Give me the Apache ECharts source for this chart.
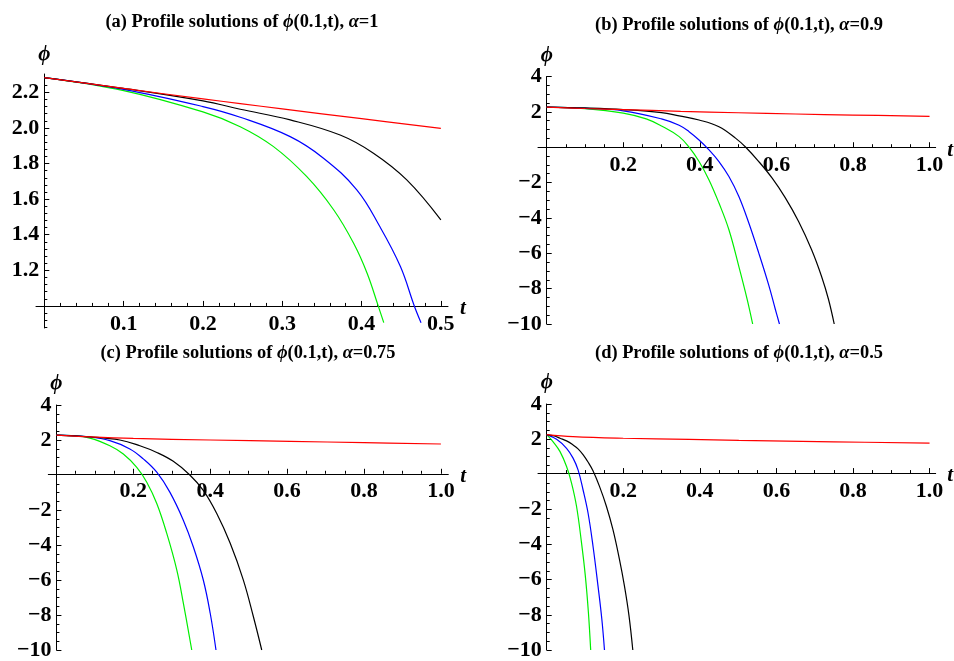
<!DOCTYPE html>
<html><head><meta charset="utf-8">
<script src="https://cdn.jsdelivr.net/npm/echarts@6/dist/echarts.min.js"></script>
<style>html,body{margin:0;padding:0;background:#fff}#c{width:954px;height:661px}</style>
</head><body><div id="c"></div>
<script>
// ---------- text ----------
const panelLetters = ['(a)', '(b)', '(c)', '(d)'];
const alphaValues = ['1', '0.9', '0.75', '0.5'];

// ---------- tick values ----------
const aXMajor = [0.1, 0.2, 0.3, 0.4, 0.5];
const aXMinor = [0.02, 0.04, 0.06, 0.08, 0.12, 0.14, 0.16, 0.18, 0.22, 0.24, 0.26, 0.28, 0.32, 0.34, 0.36, 0.38, 0.42, 0.44, 0.46, 0.48];
const aYMajor = [1.2, 1.4, 1.6, 1.8, 2.0, 2.2];
const aYMinor = [0.88, 0.92, 0.96, 1.04, 1.08, 1.12, 1.16, 1.24, 1.28, 1.32, 1.36, 1.44, 1.48, 1.52, 1.56, 1.64, 1.68, 1.72, 1.76, 1.84, 1.88, 1.92, 1.96, 2.04, 2.08, 2.12, 2.16, 2.24, 2.28];
const bXMajor = [0.2, 0.4, 0.6, 0.8, 1.0];
const bXMinor = [0.05, 0.1, 0.15, 0.25, 0.3, 0.35, 0.45, 0.5, 0.55, 0.65, 0.7, 0.75, 0.85, 0.9, 0.95];
const bYMajor = [-10, -8, -6, -4, -2, 2, 4];
const bYMinor = [-9.5, -9, -8.5, -7.5, -7, -6.5, -5.5, -5, -4.5, -3.5, -3, -2.5, -1.5, -1, -0.5, 0.5, 1, 1.5, 2.5, 3, 3.5];

// ---------- data: [t, phi] ----------
// (a) alpha = 1
const aRed   = [[0,2.283],[0.1,2.222],[0.2,2.163],[0.247,2.137],[0.3,2.107],[0.4,2.052],[0.5,1.998]];
const aBlack = [[0,2.283],[0.1,2.222],[0.2,2.152],[0.247,2.105],[0.31,2.045],[0.373,1.96],[0.415,1.858],[0.457,1.708],[0.5,1.483]];
const aBlue  = [[0,2.283],[0.1,2.217],[0.2,2.12],[0.247,2.06],[0.31,1.951],[0.352,1.83],[0.394,1.652],[0.423,1.446],[0.449,1.221],[0.4665,1.0],[0.475,0.906]];
const aGreen = [[0,2.283],[0.1,2.21],[0.2,2.09],[0.247,2.007],[0.289,1.895],[0.331,1.726],[0.365,1.539],[0.39,1.352],[0.407,1.184],[0.421,1.0],[0.428,0.906]];
// (b) alpha = 0.9
const bRed   = [[0,2.27],[0.1,2.19],[0.2,2.13],[0.35,2.03],[0.5,1.95],[0.65,1.88],[0.8,1.82],[1.0,1.75]];
const bBlack = [[0,2.27],[0.1,2.22],[0.2,2.13],[0.3,1.96],[0.346,1.77],[0.398,1.54],[0.45,1.16],[0.494,0.5],[0.52,0.0],[0.554,-0.81],[0.589,-1.75],[0.623,-2.85],[0.658,-4.2],[0.692,-5.8],[0.718,-7.31],[0.736,-8.6],[0.751,-10]];
const bBlue  = [[0,2.27],[0.1,2.2],[0.2,2.06],[0.3,1.6],[0.346,1.24],[0.372,0.88],[0.398,0.41],[0.424,-0.15],[0.45,-0.81],[0.476,-1.66],[0.502,-2.79],[0.528,-4.29],[0.554,-5.99],[0.58,-7.8],[0.597,-9.15],[0.608,-10]];
const bGreen = [[0,2.27],[0.1,2.18],[0.2,1.93],[0.26,1.6],[0.3,1.2],[0.346,0.6],[0.372,0.0],[0.398,-0.81],[0.424,-1.85],[0.45,-3.16],[0.476,-4.67],[0.502,-6.75],[0.524,-8.63],[0.538,-10]];
// (c) alpha = 0.75
const cRed   = [[0,2.28],[0.087,2.18],[0.2,2.09],[0.4,2.0],[0.608,1.92],[0.8,1.85],[1.0,1.77]];
const cBlack = [[0,2.28],[0.087,2.18],[0.165,2.0],[0.217,1.67],[0.261,1.29],[0.304,0.78],[0.347,0.0],[0.382,-0.88],[0.417,-2.2],[0.452,-3.9],[0.486,-5.99],[0.512,-8.07],[0.534,-10]];
const cBlue  = [[0,2.28],[0.087,2.17],[0.139,1.96],[0.191,1.49],[0.226,0.92],[0.261,0.16],[0.295,-0.98],[0.33,-2.58],[0.356,-4.1],[0.382,-6.0],[0.4,-7.9],[0.415,-10]];
const cGreen = [[0,2.28],[0.04,2.25],[0.087,2.11],[0.139,1.67],[0.174,1.2],[0.209,0.44],[0.235,-0.41],[0.261,-1.63],[0.287,-3.34],[0.313,-5.42],[0.33,-7.31],[0.352,-10]];
// (d) alpha = 0.5
const dRed   = [[0,2.26],[0.069,2.14],[0.2,2.05],[0.372,1.99],[0.502,1.93],[0.75,1.85],[1.0,1.77]];
const dBlack = [[0,2.26],[0.02,2.18],[0.035,2.05],[0.052,1.9],[0.069,1.67],[0.082,1.45],[0.095,1.12],[0.108,0.7],[0.121,0.2],[0.138,-0.69],[0.156,-1.82],[0.173,-3.14],[0.19,-4.83],[0.203,-6.34],[0.215,-8.04],[0.225,-10]];
const dBlue  = [[0,2.26],[0.026,1.99],[0.052,1.48],[0.069,0.92],[0.082,0.25],[0.095,-0.88],[0.108,-2.19],[0.121,-4.08],[0.134,-6.34],[0.144,-8.22],[0.151,-10]];
const dGreen = [[0,2.26],[0.017,1.85],[0.035,1.29],[0.052,0.44],[0.065,-0.5],[0.078,-1.82],[0.091,-3.89],[0.101,-5.78],[0.109,-7.85],[0.115,-10]];

// ---------- layout ----------
const FONT = 'Liberation Serif, Times New Roman, serif';
const panels = [
  { grid: {left: 36, top: 74, width: 412, height: 254}, x: [-0.0105, 0.509], y: [0.876, 2.303], xCross: 1.0,
    xMaj: aXMajor, xMin: aXMinor, yMaj: aYMajor, yMin: aYMinor, xDec: 1, yDec: 1,
    series: [aRed, aBlack, aBlue, aGreen], title: {cx: 242, top: 13}, tGap: 12 },
  { grid: {left: 538, top: 76.5, width: 400, height: 247.5}, x: [-0.0226, 1.016], y: [-10, 4], xCross: 0,
    xMaj: bXMajor, xMin: bXMinor, yMaj: bYMajor, yMin: bYMinor, xDec: 1, yDec: 0,
    series: [bRed, bBlack, bBlue, bGreen], title: {cx: 739, top: 16}, tGap: 9 },
  { grid: {left: 48.3, top: 405, width: 400, height: 246.7}, x: [-0.0211, 1.0192], y: [-10, 4], xCross: 0,
    xMaj: bXMajor, xMin: bXMinor, yMaj: bYMajor, yMin: bYMinor, xDec: 1, yDec: 0,
    series: [cRed, cBlack, cBlue, cGreen], title: {cx: 248, top: 344}, tGap: 12 },
  { grid: {left: 538, top: 404, width: 400, height: 247.7}, x: [-0.0226, 1.016], y: [-10, 4], xCross: 0,
    xMaj: bXMajor, xMin: bXMinor, yMaj: bYMajor, yMin: bYMinor, xDec: 1, yDec: 0,
    series: [dRed, dBlack, dBlue, dGreen], title: {cx: 739, top: 344}, tGap: 9 }
];
const colors = ['#ff0000', '#000000', '#0000ff', '#00ee00'];

function fmt(v, dec) {
  const s = Math.abs(v).toFixed(dec);
  return (v < 0 ? '\u2212' : '') + s;
}

const grids = [], xAxes = [], yAxes = [], series = [], titles = [];
const labelStyle = {color: '#000', fontFamily: FONT, fontWeight: 'bold', fontSize: 22};
const nameStyle = {color: '#000', fontFamily: FONT, fontWeight: 'bold', fontStyle: 'italic', fontSize: 21};
const richT = {
  n: {fontFamily: FONT, fontWeight: 'bold', fontSize: 18.4, color: '#000'},
  i: {fontFamily: FONT, fontWeight: 'bold', fontStyle: 'italic', fontSize: 18.4, color: '#000'}
};

panels.forEach((p, gi) => {
  grids.push(Object.assign({containLabel: false}, p.grid));
  // axis crossing positions, derived from the scales (x axis at phi = xCross, y axis at t = 0)
  const xOff = -(p.xCross - p.y[0]) / (p.y[1] - p.y[0]) * p.grid.height;
  const yOff = -(0 - p.x[0]) / (p.x[1] - p.x[0]) * p.grid.width;
  const common = {type: 'value', gridIndex: gi, splitLine: {show: false}};
  xAxes.push(Object.assign({}, common, {
    min: p.x[0], max: p.x[1], position: 'bottom', offset: xOff,
    axisLine: {show: true, onZero: false, lineStyle: {color: '#000', width: 1}},
    axisTick: {show: true, inside: true, length: 5, customValues: p.xMaj, lineStyle: {color: '#000', width: 1}},
    axisLabel: Object.assign({show: true, customValues: p.xMaj, margin: 7, formatter: v => fmt(v, p.xDec)}, labelStyle),
    name: 't', nameLocation: 'end', nameGap: p.tGap,
    nameTextStyle: Object.assign({verticalAlign: 'top', lineHeight: 6}, nameStyle)
  }));
  xAxes.push(Object.assign({}, common, {
    min: p.x[0], max: p.x[1], position: 'bottom', offset: xOff,
    axisLine: {show: false, onZero: false},
    axisTick: {show: true, inside: true, length: 3, customValues: p.xMin, lineStyle: {color: '#000', width: 1}},
    axisLabel: {show: false}
  }));
  yAxes.push(Object.assign({}, common, {
    min: p.y[0], max: p.y[1], position: 'left', offset: yOff,
    axisLine: {show: true, onZero: false, lineStyle: {color: '#000', width: 1}},
    axisTick: {show: true, inside: true, length: 5, customValues: p.yMaj, lineStyle: {color: '#000', width: 1}},
    axisLabel: Object.assign({show: true, customValues: p.yMaj, margin: 5, formatter: v => fmt(v, p.yDec)}, labelStyle),
    name: '\u03d5', nameLocation: 'end', nameGap: 9, nameTextStyle: nameStyle
  }));
  yAxes.push(Object.assign({}, common, {
    min: p.y[0], max: p.y[1], position: 'left', offset: yOff,
    axisLine: {show: false, onZero: false},
    axisTick: {show: true, inside: true, length: 3, customValues: p.yMin, lineStyle: {color: '#000', width: 1}},
    axisLabel: {show: false}
  }));
  p.series.forEach((d, si) => {
    series.push({
      type: 'line', xAxisIndex: 2 * gi, yAxisIndex: 2 * gi, data: d,
      showSymbol: false, smooth: 0.4, clip: true,
      lineStyle: {color: colors[si], width: 1.2}, z: 3 + (3 - si)
    });
  });
  titles.push({
    text: '{n|' + panelLetters[gi] + ' Profile solutions of }{i|\u03d5}{n|(0.1,t), }{i|\u03b1}{n|=' + alphaValues[gi] + '}',
    left: p.title.cx, top: p.title.top, textAlign: 'center', padding: 0,
    textStyle: {rich: richT}
  });
});

const chart = echarts.init(document.getElementById('c'), null, {renderer: 'canvas'});
chart.setOption({
  animation: false,
  backgroundColor: '#fff',
  title: titles,
  grid: grids,
  xAxis: xAxes,
  yAxis: yAxes,
  series: series
});
</script>
</body></html>
